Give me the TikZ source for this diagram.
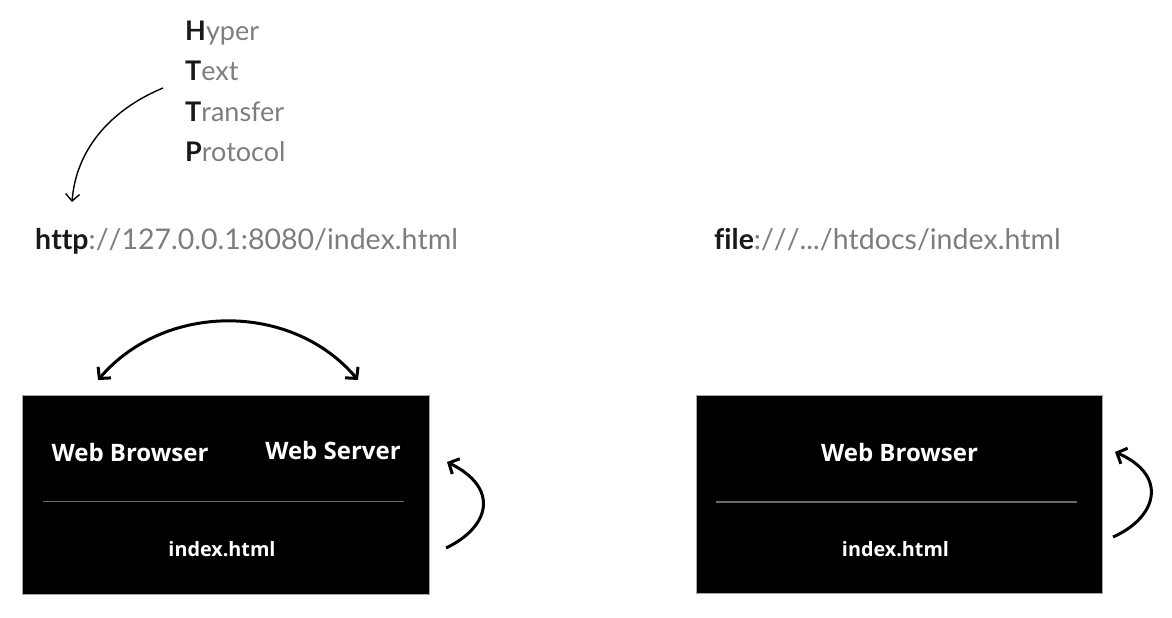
\documentclass[tikz,border=0pt]{standalone}
\usepackage{fontspec}
\setmainfont{Lato}[Ligatures=NoCommon]
\newfontfamily\urlfont{Lato}[Ligatures=NoCommon,Kerning=Off]
\newfontfamily\boxfont{Open Sans}
\usetikzlibrary{arrows.meta}
\definecolor{lightgray}{RGB}{125,125,125}
\definecolor{darktext}{RGB}{25,25,25}
\definecolor{sepgray}{RGB}{105,105,105}
\tikzset{
  toptext/.style={anchor=base west, inner sep=0pt, font=\fontsize{27}{30}\selectfont, text=lightgray},
  urltext/.style={anchor=base west, inner sep=0pt, font=\urlfont\fontsize{28.5}{30}\selectfont, text=lightgray},
  blackbox/.style={draw=gray!70, line width=1pt, fill=black},
  boxlabel/.style={inner sep=0pt, anchor=base, text=white, font=\boxfont\bfseries\fontsize{24}{26}\selectfont},
  filelabel/.style={inner sep=0pt, anchor=base, text=white, font=\boxfont\bfseries\fontsize{19.8}{22}\selectfont},
  sepline/.style={draw=sepgray, line width=1.3pt},
  thinarrow/.style={line width=1.4pt, -{Straight Barb[length=7pt,width=14pt]}},
  thickarrow/.style={line width=3pt, {Straight Barb[length=8pt,width=17pt]}-{Straight Barb[length=8pt,width=17pt]}},
  looparrow/.style={line width=3pt, -{Straight Barb[length=8pt,width=17pt]}}
}
\newcommand{\bk}[1]{\textcolor{darktext}{\bfseries #1}}
\begin{document}
\begin{tikzpicture}[x=1pt,y=-1pt]
\useasboundingbox (0,0) rectangle (1172,618);
% HTTP acronym
\node[toptext] (hyper) at (185,41) {\bk{H}yper};
\node[toptext] (text) at (185,81) {\bk{T}ext};
\node[toptext] (transfer) at (185,121) {\bk{T}ransfer};
\node[toptext] (protocol) at (185,161) {\bk{P}rotocol};
% URLs
\node[urltext] (http) at (35,249) {\bk{http}://127.0.0.1:8080/index.html};
\node[urltext] (file) at (714,249) {\bk{file}:///.../htdocs/index.html};
\coordinate (arrstart) at (163,88);
\coordinate (arrend) at (72,202);
\draw[thinarrow] (arrstart) .. controls (110,110) and (76,150) .. (arrend);
% left box
\path[blackbox] (22.5,395) rectangle (429,594);
\node[boxlabel] (wb1) at (130,461) {Web Browser};
\node[boxlabel] (ws1) at (333,459) {Web Server};
\coordinate (sepL1) at (42.5,501.5);
\coordinate (sepR1) at (403.5,501.5);
\draw[sepline] (sepL1) -- (sepR1);
\node[filelabel] (idx1) at (222,556.5) {index.html};
\coordinate (topL) at (98,380);
\coordinate (topR) at (358,380);
\draw[thickarrow] (topL) .. controls (165,302) and (292,302) .. (topR);
\coordinate (loopAs) at (446,548);
\coordinate (loopAe) at (447,462);
\draw[looparrow] (loopAs) .. controls (490,527) and (500,488) .. (loopAe);
% right box
\path[blackbox] (696,395) rectangle (1102.5,593.5);
\node[boxlabel] (wb2) at (899.5,461) {Web Browser};
\coordinate (sepL2) at (716,502);
\coordinate (sepR2) at (1077,502);
\draw[sepline] (sepL2) -- (sepR2);
\node[filelabel] (idx2) at (895.5,556.5) {index.html};
\coordinate (loopBs) at (1113,537);
\coordinate (loopBe) at (1115,452);
\draw[looparrow] (loopBs) .. controls (1158,517) and (1168,475) .. (loopBe);
\end{tikzpicture}
\end{document}
